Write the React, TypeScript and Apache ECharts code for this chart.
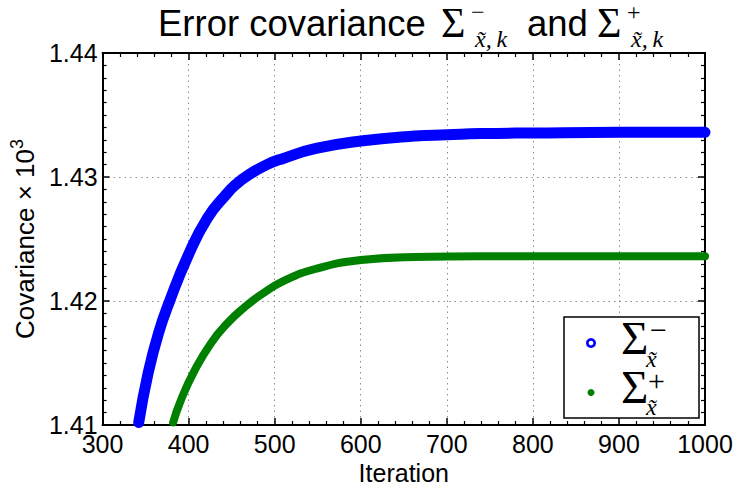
import React, { useEffect, useRef } from "react";
import * as echarts from "echarts";

// Σ⁻ (prior) error covariance
const iterMinus = [342, 353, 365, 378, 399, 422, 445, 455, 468, 491, 510, 548, 600, 663, 700, 740, 800, 900, 1000];
const covMinus = [1.4102, 1.4142, 1.4174, 1.42, 1.4236, 1.4267, 1.4287, 1.4294, 1.4301, 1.431, 1.4315, 1.4323, 1.4329, 1.4333, 1.4334, 1.4335, 1.43355, 1.4336, 1.4336];
// Σ⁺ (posterior) error covariance
const iterPlus = [382, 391, 407, 426, 445, 465, 484, 510, 548, 600, 663, 740, 850, 1000];
const covPlus = [1.4102, 1.412, 1.4144, 1.4166, 1.4182, 1.4195, 1.4205, 1.4216, 1.4226, 1.4233, 1.42355, 1.4236, 1.4236, 1.4236];

const xMin = 300, xMax = 1000, xStep = 100;
const yMin = 1.41, yMax = 1.44, yStep = 0.01;

const SANS = "'Liberation Sans', Arial, Helvetica, sans-serif";
const SERIF = "'Liberation Serif', 'Times New Roman', serif";

const axisCommon = {
  axisLine: { show: true, onZero: false, lineStyle: { color: "#000", width: 2 } },
  axisTick: { show: true, inside: true, length: 7, lineStyle: { color: "#000", width: 1.5 } },
};

function txt(text: string, x: number, y: number, font: string, lineHeight: number, z = 1) {
  return {
    type: "text",
    x,
    y,
    z,
    silent: true,
    style: { text, font, lineHeight, fill: "#000", textAlign: "left", textVerticalAlign: "middle" },
  };
}

export default function App() {
  const ref = useRef<HTMLDivElement>(null);
  useEffect(() => {
    if (!ref.current) return;
    const chart = echarts.init(ref.current, undefined, { renderer: "svg" });
    const option: any = {
      animation: false,
      backgroundColor: "#fff",
      textStyle: { fontFamily: SANS },
      grid: { left: 99, right: 44, top: 53, bottom: 66, containLabel: false },
      xAxis: [
        {
          type: "value",
          min: xMin,
          max: xMax,
          interval: xStep,
          position: "bottom",
          ...axisCommon,
          minorTick: { show: true, splitNumber: 5, length: 4, lineStyle: { color: "#000", width: 1.2 } },
          axisLabel: {
            color: "#000",
            fontSize: 25,
            fontFamily: SANS,
            margin: 6,
            showMinLabel: true,
            showMaxLabel: true,
            formatter: (v: number) => String(v),
          },
          splitLine: { show: true, lineStyle: { color: "#8c8c8c", width: 1, type: [1.5, 4] } },
          name: "Iteration",
          nameLocation: "middle",
          nameGap: 29,
          nameTextStyle: { color: "#000", fontSize: 25, fontFamily: SANS },
        },
        {
          type: "value",
          min: xMin,
          max: xMax,
          interval: xStep,
          position: "top",
          ...axisCommon,
          minorTick: { show: true, splitNumber: 5, length: 4, lineStyle: { color: "#000", width: 1.2 } },
          axisLabel: { show: false },
          splitLine: { show: false },
        },
      ],
      yAxis: [
        {
          type: "value",
          min: yMin,
          max: yMax,
          interval: yStep,
          position: "left",
          ...axisCommon,
          minorTick: { show: true, splitNumber: 10, length: 4, lineStyle: { color: "#000", width: 1.2 } },
          axisLabel: {
            color: "#000",
            fontSize: 25,
            fontFamily: SANS,
            margin: 5,
            showMinLabel: true,
            showMaxLabel: true,
            formatter: (v: number) => v.toFixed(2),
          },
          splitLine: { show: true, lineStyle: { color: "#8c8c8c", width: 1, type: [1.5, 4] } },
          name: "{a|Covariance × 10}{s|3}",
          nameLocation: "middle",
          nameRotate: 90,
          nameGap: 49,
          nameTextStyle: {
            rich: {
              a: { fontSize: 26, fontFamily: SANS, color: "#000", lineHeight: 34 },
              s: { fontSize: 18, fontFamily: SANS, color: "#000", verticalAlign: "top", lineHeight: 18 },
            },
          },
        },
        {
          type: "value",
          min: yMin,
          max: yMax,
          interval: yStep,
          position: "right",
          ...axisCommon,
          minorTick: { show: true, splitNumber: 10, length: 4, lineStyle: { color: "#000", width: 1.2 } },
          axisLabel: { show: false },
          splitLine: { show: false },
        },
      ],
      series: [
        {
          name: "minus",
          type: "line",
          xAxisIndex: 0,
          yAxisIndex: 0,
          data: iterMinus.map((x, i) => [x, covMinus[i]]),
          showSymbol: false,
          smooth: 0.5,
          clip: false,
          lineStyle: { color: "#0000ff", width: 11, cap: "round", join: "round" },
          z: 3,
        },
        {
          name: "plus",
          type: "line",
          xAxisIndex: 0,
          yAxisIndex: 0,
          data: iterPlus.map((x, i) => [x, covPlus[i]]),
          showSymbol: false,
          smooth: 0.5,
          clip: false,
          lineStyle: { color: "#008000", width: 8, cap: "round", join: "round" },
          z: 3,
        },
      ],
      graphic: [
        // title
        txt("Error covariance", 158, 23.5, `36.5px ${SANS}`, 34),
        txt("Σ", 441, 22.5, `42px ${SERIF}`, 34),
        txt("−", 471, 12.2, `24px ${SERIF}`, 16),
        txt("x̃,\u2009k", 475, 38.9, `italic 24px ${SERIF}`, 18),
        txt("and", 527, 23.5, `36.5px ${SANS}`, 34),
        txt("Σ", 597, 22.5, `42px ${SERIF}`, 34),
        txt("+", 627, 12.2, `24px ${SERIF}`, 16),
        txt("x̃,\u2009k", 631, 38.9, `italic 24px ${SERIF}`, 18),
        // legend
        {
          type: "rect",
          z: 10,
          shape: { x: 564, y: 317, width: 135, height: 101 },
          style: { fill: "#fff", stroke: "#000", lineWidth: 1.5 },
        },
        {
          type: "circle",
          z: 11,
          shape: { cx: 591, cy: 343, r: 3.7 },
          style: { fill: "#fff", stroke: "#0000ff", lineWidth: 2.7 },
        },
        {
          type: "circle",
          z: 11,
          shape: { cx: 591, cy: 392.5, r: 3.5 },
          style: { fill: "#008000" },
        },
        txt("Σ", 621, 338.1, `47px ${SERIF}`, 30, 11),
        txt("−", 650, 329.1, `30px ${SERIF}`, 14, 11),
        txt("x̃", 646, 358.9, `italic 24px ${SERIF}`, 14, 11),
        txt("Σ", 621, 387.4, `47px ${SERIF}`, 30, 11),
        txt("+", 648, 380.9, `30px ${SERIF}`, 14, 11),
        txt("x̃", 646, 406.9, `italic 24px ${SERIF}`, 14, 11),
      ],
    };
    chart.setOption(option);
    return () => chart.dispose();
  }, []);
  return (
    <div
      ref={ref}
      style={{ position: "fixed", left: 0, top: 0, width: 749, height: 491, background: "#fff" }}
    />
  );
}
